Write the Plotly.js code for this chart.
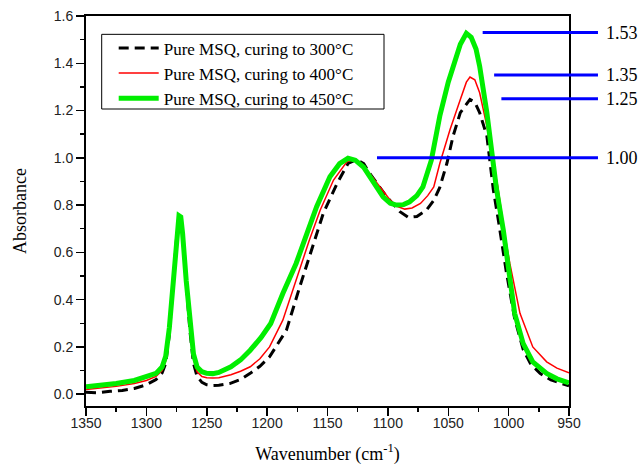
<!DOCTYPE html>
<html>
<head>
<meta charset="utf-8">
<script src="https://cdn.plot.ly/plotly-3.0.1.min.js"></script>
<style>html,body{margin:0;padding:0;background:#fff;}#chart{width:642px;height:465px;}</style>
</head>
<body>
<div id="chart"></div>
<script>
// Series names
var seriesNames = ['Pure MSQ, curing to 300°C', 'Pure MSQ, curing to 400°C', 'Pure MSQ, curing to 450°C'];

// 300°C (black dashed)
var x300 = [1350,1340,1330,1320,1310,1300,1292,1287,1284,1281,1278,1275,1273,1271.5,1270,1267,1264,1261,1258,1254,1250,1245,1240,1231,1222,1214,1206,1198,1184,1173,1162,1153.5,1142,1133,1126,1120,1115,1108,1101,1090,1083,1076,1068,1062,1057,1051,1046,1040,1032,1028,1024,1018,1015.4,1012.7,1008,1002,995,988,982,974,965,950];
var y300 = [0.008,0.006,0.012,0.016,0.024,0.040,0.062,0.090,0.130,0.250,0.460,0.660,0.740,0.740,0.670,0.460,0.270,0.130,0.075,0.050,0.040,0.037,0.038,0.045,0.062,0.088,0.118,0.158,0.271,0.454,0.624,0.765,0.892,0.976,0.993,0.975,0.934,0.885,0.835,0.772,0.748,0.752,0.779,0.820,0.875,0.979,1.092,1.191,1.247,1.235,1.191,1.092,0.979,0.866,0.720,0.520,0.320,0.190,0.130,0.088,0.060,0.035];

// 400°C (red thin)
var x400 = [1350,1340,1325,1310,1300,1292,1287,1284,1281,1278,1275,1273,1271.5,1270,1267,1264,1261,1258,1254,1250,1245,1240,1235,1230,1222,1214,1206,1198,1187,1176,1165,1156,1145,1134,1129,1122,1115,1107,1098,1093,1086,1080,1073,1067,1062,1057,1048.5,1040,1035,1032,1028,1024,1018,1014,1009,1004,999,990.6,980,968.5,960,950];
var y400 = [0.020,0.024,0.033,0.045,0.058,0.075,0.100,0.140,0.260,0.460,0.660,0.740,0.740,0.670,0.470,0.280,0.150,0.095,0.075,0.070,0.068,0.070,0.076,0.082,0.097,0.116,0.150,0.200,0.313,0.483,0.652,0.779,0.906,0.983,0.992,0.975,0.934,0.880,0.821,0.796,0.783,0.788,0.807,0.840,0.877,0.976,1.120,1.247,1.320,1.342,1.330,1.275,1.134,1.007,0.880,0.700,0.553,0.342,0.200,0.137,0.110,0.090];

// 450°C (green thick)
var x450 = [1350,1340,1325,1310,1300,1292,1287,1284,1281,1278,1275,1273,1271.5,1270,1267,1264,1261,1258,1254,1250,1245,1240,1235,1230,1222,1214,1205,1197,1187,1176,1167,1159,1148,1140,1133,1127,1120,1115,1109,1104,1098,1093,1087,1082,1076,1071,1064,1060,1057,1050,1046,1040,1035,1031,1027,1024,1018,1014,1010,1004.4,1000,995,988,980,968.5,960,950];
var y450 = [0.031,0.035,0.045,0.058,0.072,0.088,0.115,0.160,0.280,0.480,0.680,0.755,0.750,0.680,0.480,0.300,0.170,0.115,0.095,0.088,0.087,0.092,0.102,0.116,0.145,0.186,0.240,0.299,0.426,0.553,0.680,0.793,0.920,0.975,0.998,0.990,0.960,0.920,0.875,0.835,0.808,0.800,0.802,0.814,0.840,0.877,0.990,1.100,1.177,1.320,1.388,1.480,1.527,1.510,1.460,1.388,1.190,1.007,0.866,0.694,0.511,0.342,0.215,0.137,0.088,0.065,0.048];

// Peak markers (blue lines with labels)
var peakLabels = ['1.53', '1.35', '1.25', '1.00'];
var peakValues = [1.53, 1.35, 1.25, 1.00];
var peakLineStart = [1021.5, 1012, 1006, 1109];

// Axis ticks
var xTicks = [1350, 1300, 1250, 1200, 1150, 1100, 1050, 1000, 950];
var yTicks = [0.0, 0.2, 0.4, 0.6, 0.8, 1.0, 1.2, 1.4, 1.6];

var xRange = [1350, 950];
var yRange = [-0.05, 1.6];

function toPaperX(v) { return (xRange[0] - v) / (xRange[0] - xRange[1]); }

var serif = 'Liberation Serif, Times New Roman, serif';
var sans = 'Liberation Sans, Arial, sans-serif';

var traces = [
  {x: x300, y: y300, name: seriesNames[0], type: 'scatter', mode: 'lines',
   line: {color: '#000000', width: 3, dash: '10px,6px'}},
  {x: x400, y: y400, name: seriesNames[1], type: 'scatter', mode: 'lines',
   line: {color: '#ff0000', width: 1.5}},
  {x: x450, y: y450, name: seriesNames[2], type: 'scatter', mode: 'lines',
   line: {color: '#00ee00', width: 5}}
];

// legend frame
var shapes = [{type: 'rect', xref: 'paper', yref: 'paper',
  x0: 0.0325, x1: 0.617, y0: 0.7615, y1: 0.953,
  line: {color: '#000', width: 1}, fillcolor: 'rgba(0,0,0,0)', layer: 'above'}];
var annotations = [];
for (var i = 0; i < peakValues.length; i++) {
  shapes.push({type: 'line', xref: 'paper', yref: 'y',
    x0: toPaperX(peakLineStart[i]), x1: 1.06, y0: peakValues[i], y1: peakValues[i],
    line: {color: '#0000ff', width: 3}, layer: 'above'});
  annotations.push({xref: 'paper', yref: 'y', x: 1.072, y: peakValues[i],
    text: peakLabels[i], showarrow: false, xanchor: 'left', yanchor: 'middle',
    font: {family: serif, size: 18, color: '#000'}});
}

var layout = {
  width: 642, height: 465,
  margin: {l: 86, r: 73, t: 16, b: 59},
  paper_bgcolor: '#ffffff', plot_bgcolor: '#ffffff',
  showlegend: true,
  legend: {x: 0.0325, y: 0.963, xanchor: 'left', yanchor: 'top',
    bgcolor: 'rgba(0,0,0,0)', borderwidth: 0,
    font: {family: serif, size: 17, color: '#000'}, itemwidth: 40,
    indentation: 12, tracegroupgap: 0},
  xaxis: {range: xRange, autorange: false, tickvals: xTicks,
    ticks: 'outside', ticklen: 8, tickwidth: 1.5, tickcolor: '#000',
    minor: {dtick: 25, ticks: 'outside', ticklen: 4, tickwidth: 1.5, tickcolor: '#000'},
    showline: true, linecolor: '#000', linewidth: 2, mirror: true,
    showgrid: false, zeroline: false, ticklabelstandoff: -5,
    tickfont: {family: sans, size: 14, color: '#222'},
    title: {text: 'Wavenumber (cm<sup>-1</sup>)', font: {family: serif, size: 18, color: '#000'}, standoff: 20}},
  yaxis: {range: yRange, autorange: false, tickvals: yTicks, tickformat: '.1f',
    ticks: 'outside', ticklen: 8, tickwidth: 1.5, tickcolor: '#000',
    minor: {dtick: 0.1, tick0: 0, ticks: 'outside', ticklen: 4, tickwidth: 1.5, tickcolor: '#000'},
    showline: true, linecolor: '#000', linewidth: 2, mirror: true,
    showgrid: false, zeroline: false,
    tickfont: {family: sans, size: 14, color: '#222'},
    title: {text: 'Absorbance', font: {family: serif, size: 18, color: '#000'}, standoff: 22}},
  shapes: shapes,
  annotations: annotations
};

Plotly.newPlot('chart', traces, layout, {displayModeBar: false, staticPlot: true});
</script>
</body>
</html>
